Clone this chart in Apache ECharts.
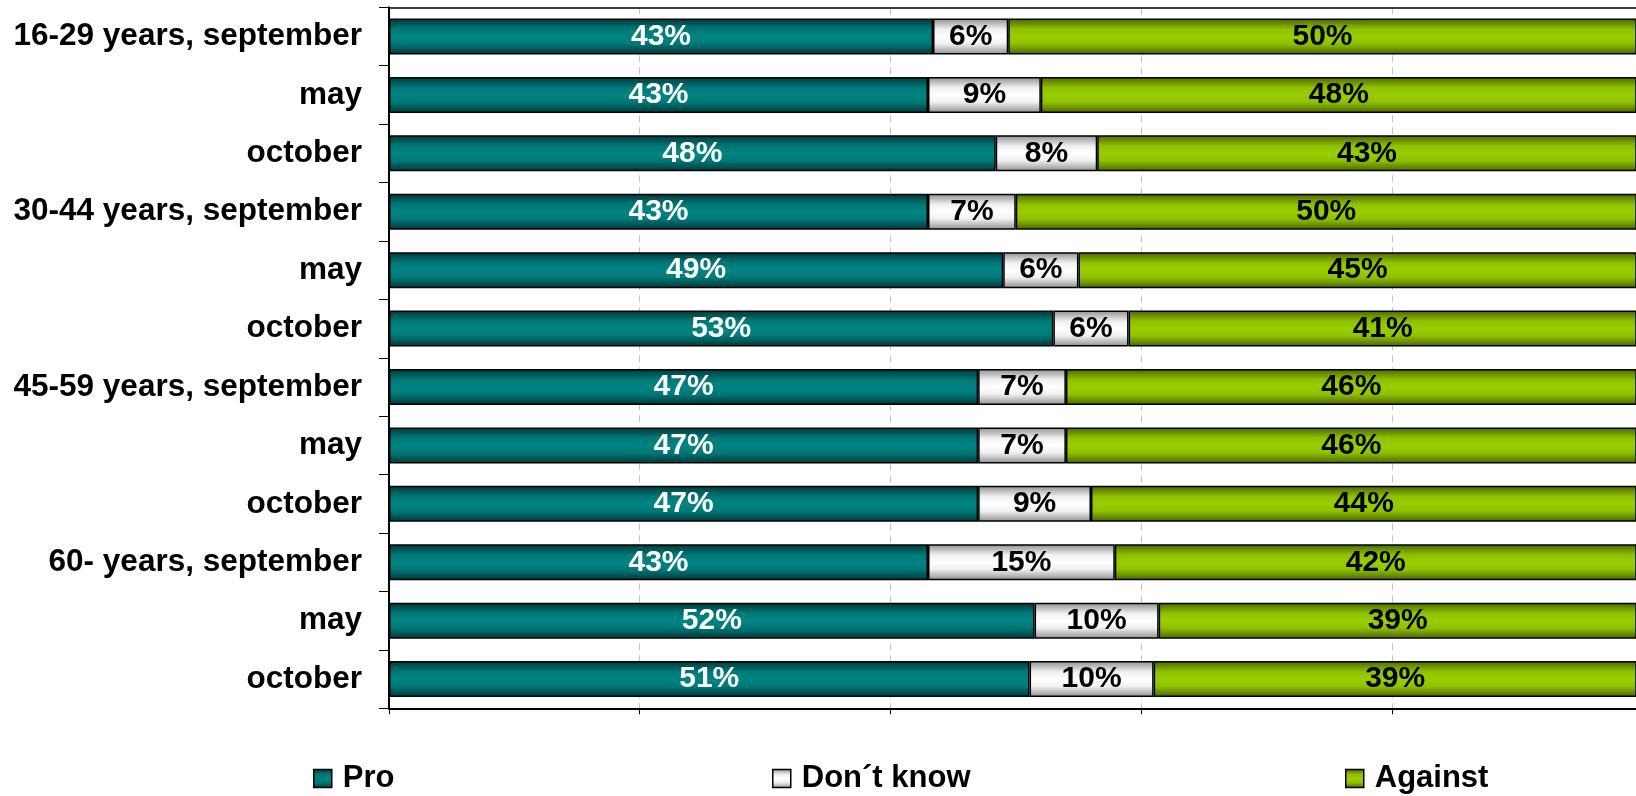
<!DOCTYPE html>
<html>
<head>
<meta charset="utf-8">
<script src="https://cdn.jsdelivr.net/npm/echarts@6/dist/echarts.min.js"></script>
<style>
html,body{margin:0;padding:0;background:#fff;}
#chart{width:1636px;height:796px;}
</style>
</head>
<body>
<div id="chart"></div>
<script>
const categories = [
  '16-29 years, september', 'may', 'october',
  '30-44 years, september', 'may ', 'october ',
  '45-59 years, september', 'may  ', 'october  ',
  '60- years, september', 'may   ', 'october   '
];
const proValues = [43.4, 43.0, 48.4, 43.0, 49.0, 53.0, 47.0, 47.0, 47.0, 43.0, 51.5, 51.1];
const dontKnowValues = [6.0, 9.0, 8.1, 7.0, 6.0, 6.0, 7.0, 7.0, 9.0, 14.9, 9.9, 9.9];
const againstValues = [50.4, 48, 43.4, 50, 45, 41, 46, 46, 44, 42, 39, 39];
const seriesNames = ['Pro', 'Don\u00b4t know', 'Against'];

const FONT = '"Liberation Sans", Arial, sans-serif';

function grad(edge, mid, center) {
  return new echarts.graphic.LinearGradient(0, 0, 0, 1, [
    {offset: 0, color: edge},
    {offset: 0.3, color: mid},
    {offset: 0.5, color: center},
    {offset: 0.7, color: mid},
    {offset: 1, color: edge}
  ]);
}

const fills = [
  grad('#003838', '#007878', '#008482'),
  grad('#8e8e8e', '#f0f0f0', '#ffffff'),
  grad('#4a6400', '#8fc200', '#9acd00')
];
const labelColors = ['#ffffff', '#000000', '#000000'];
const dataSets = [proValues, dontKnowValues, againstValues];

const chart = echarts.init(document.getElementById('chart'));

const series = seriesNames.map((name, i) => ({
  name: name,
  type: 'bar',
  stack: 'total',
  barWidth: 36,
  xAxisIndex: 0,
  data: dataSets[i],
  itemStyle: {color: fills[i], borderColor: '#000', borderWidth: 1.5},
  label: {
    show: true,
    position: 'inside',
    color: labelColors[i],
    fontFamily: FONT,
    fontWeight: 'bold',
    fontSize: 30,
    formatter: p => Math.round(p.value) + '%'
  },
  emphasis: {disabled: true}
}));

const legendLefts = [313, 772, 1345];
const legends = seriesNames.map((name, i) => ({
  data: [name],
  left: legendLefts[i],
  top: 763,
  padding: 0,
  itemWidth: 18,
  itemHeight: 18,
  icon: 'rect',
  selectedMode: false,
  itemStyle: {borderColor: '#000', borderWidth: 1.5},
  textStyle: {
    fontFamily: FONT,
    fontWeight: 'bold',
    fontSize: 31,
    color: '#000',
    padding: [0, 0, 0, 6]
  }
}));

chart.setOption({
  backgroundColor: '#fff',
  animation: false,
  legend: legends,
  grid: {
    left: 389, right: 0, top: 7.3, bottom: 87.7,
    show: false,
    containLabel: false
  },
  xAxis: [{
    type: 'value',
    position: 'bottom',
    min: 0, max: 99.48, interval: 20,
    axisLabel: {show: false},
    axisLine: {show: true, lineStyle: {color: '#000', width: 2}},
    axisTick: {show: true, length: 6, lineStyle: {color: '#000', width: 1}},
    splitLine: {show: true, lineStyle: {color: '#c4c4c4', width: 1, type: [7, 5]}}
  }, {
    type: 'value',
    position: 'top',
    min: 0, max: 99.48, interval: 20,
    axisLabel: {show: false},
    axisLine: {show: true, onZero: false, lineStyle: {color: '#000', width: 1.5}},
    axisTick: {show: false},
    splitLine: {show: false}
  }],
  yAxis: {
    type: 'category',
    data: categories,
    inverse: true,
    axisLine: {show: true, lineStyle: {color: '#000', width: 2}},
    axisTick: {show: true, length: 10, lineStyle: {color: '#000', width: 1}},
    axisLabel: {
      margin: 27,
      fontFamily: FONT,
      fontWeight: 'bold',
      fontSize: 31.5,
      color: '#000',
      formatter: v => v.trim()
    },
    splitLine: {show: false}
  },
  series: series
});
</script>
</body>
</html>
